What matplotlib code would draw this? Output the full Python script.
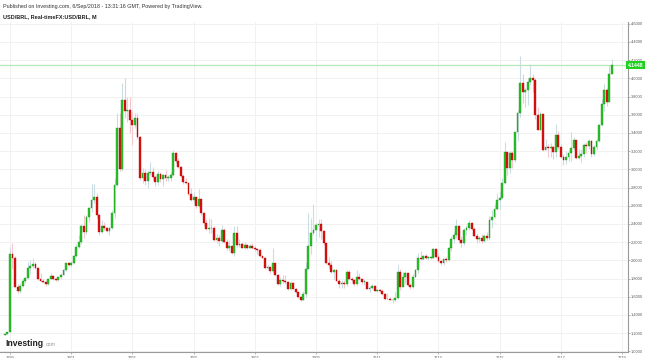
import matplotlib
matplotlib.use('Agg')
from matplotlib import pyplot as plt
import matplotlib.ticker as mticker

# monthly USD/BRL candles, Nov 1998 .. Sep 2018 (x = months since Jan 1999)
first_open = 1.18
closes = [1.19, 1.21,
          # 1999
          2.07, 2.03, 1.71, 1.66, 1.72, 1.77, 1.81, 1.92, 1.94, 1.96, 1.92, 1.79,
          # 2000
          1.77, 1.76, 1.74, 1.80, 1.83, 1.80, 1.78, 1.82, 1.84, 1.89, 1.97, 1.95,
          # 2001
          1.97, 2.05, 2.15, 2.20, 2.38, 2.31, 2.48, 2.57, 2.66, 2.70, 2.50, 2.31,
          # 2002
          2.38, 2.35, 2.32, 2.36, 2.52, 2.83, 3.45, 3.00, 3.76, 3.64, 3.65, 3.54,
          # 2003
          3.49, 3.56, 3.36, 2.91, 2.96, 2.87, 2.96, 2.97, 2.92, 2.86, 2.95, 2.89,
          # 2004
          2.94, 2.91, 2.91, 2.94, 3.18, 3.09, 3.03, 2.93, 2.86, 2.85, 2.73, 2.66,
          # 2005
          2.70, 2.60, 2.67, 2.52, 2.41, 2.34, 2.36, 2.35, 2.22, 2.25, 2.21, 2.33,
          # 2006
          2.20, 2.14, 2.16, 2.08, 2.30, 2.17, 2.18, 2.14, 2.17, 2.14, 2.16, 2.13,
          # 2007
          2.12, 2.11, 2.05, 2.03, 1.92, 1.93, 1.88, 1.97, 1.84, 1.74, 1.78, 1.77,
          # 2008
          1.76, 1.69, 1.75, 1.69, 1.65, 1.60, 1.56, 1.63, 1.90, 2.16, 2.30, 2.33,
          # 2009
          2.39, 2.40, 2.32, 2.19, 1.97, 1.95, 1.87, 1.89, 1.77, 1.74, 1.75, 1.74,
          # 2010
          1.87, 1.80, 1.78, 1.74, 1.82, 1.80, 1.76, 1.76, 1.69, 1.70, 1.72, 1.66,
          # 2011
          1.67, 1.66, 1.63, 1.57, 1.58, 1.56, 1.56, 1.59, 1.87, 1.71, 1.82, 1.86,
          # 2012
          1.73, 1.71, 1.82, 1.89, 2.02, 2.01, 2.05, 2.03, 2.03, 2.03, 2.12, 2.04,
          # 2013
          1.99, 1.97, 2.01, 2.00, 2.13, 2.23, 2.28, 2.38, 2.22, 2.19, 2.33, 2.36,
          # 2014
          2.41, 2.34, 2.27, 2.23, 2.24, 2.21, 2.27, 2.24, 2.44, 2.48, 2.56, 2.66,
          # 2015
          2.68, 2.85, 3.19, 3.01, 3.18, 3.10, 3.41, 3.62, 3.95, 3.85, 3.87, 3.96,
          # 2016
          4.00, 3.98, 3.60, 3.43, 3.61, 3.21, 3.24, 3.23, 3.25, 3.19, 3.38, 3.25,
          # 2017
          3.14, 3.10, 3.13, 3.18, 3.23, 3.32, 3.12, 3.15, 3.17, 3.27, 3.26, 3.31,
          # 2018
          3.17, 3.24, 3.31, 3.49, 3.72, 3.87, 3.74, 4.05, 4.1448]

highs = [1.195, 1.215,
         2.15, 2.19, 2.05, 1.74, 1.75, 1.80, 1.82, 1.98, 2.00, 2.03, 1.98, 1.93,
         1.86, 1.79, 1.77, 1.81, 1.86, 1.84, 1.81, 1.82, 1.86, 1.90, 1.98, 1.98,
         1.99, 2.06, 2.18, 2.28, 2.40, 2.50, 2.50, 2.59, 2.84, 2.84, 2.74, 2.52,
         2.44, 2.42, 2.37, 2.37, 2.55, 2.90, 3.62, 3.62, 3.95, 4.00, 3.80, 3.80,
         3.64, 3.62, 3.62, 3.37, 3.02, 3.00, 2.99, 3.08, 3.03, 2.94, 2.98, 2.97,
         2.95, 2.99, 2.94, 2.97, 3.21, 3.19, 3.12, 3.04, 2.95, 2.90, 2.86, 2.79,
         2.75, 2.70, 2.78, 2.67, 2.53, 2.45, 2.46, 2.45, 2.38, 2.29, 2.28, 2.39,
         2.35, 2.23, 2.22, 2.16, 2.38, 2.38, 2.23, 2.20, 2.20, 2.18, 2.18, 2.19,
         2.16, 2.14, 2.14, 2.05, 2.04, 1.95, 1.93, 2.13, 1.97, 1.85, 1.82, 1.84,
         1.84, 1.77, 1.77, 1.76, 1.70, 1.66, 1.61, 1.66, 1.98, 2.52, 2.47, 2.62,
         2.41, 2.45, 2.45, 2.33, 2.20, 2.04, 1.99, 1.90, 1.90, 1.80, 1.78, 1.78,
         1.89, 1.89, 1.82, 1.80, 1.89, 1.86, 1.81, 1.78, 1.76, 1.72, 1.74, 1.73,
         1.69, 1.69, 1.68, 1.64, 1.64, 1.60, 1.59, 1.65, 1.95, 1.90, 1.87, 1.88,
         1.87, 1.75, 1.85, 1.90, 2.08, 2.10, 2.06, 2.07, 2.05, 2.05, 2.13, 2.13,
         2.08, 2.00, 2.03, 2.04, 2.15, 2.27, 2.31, 2.45, 2.39, 2.27, 2.35, 2.39,
         2.44, 2.42, 2.37, 2.30, 2.27, 2.29, 2.29, 2.31, 2.49, 2.55, 2.62, 2.74,
         2.75, 2.90, 3.30, 3.19, 3.20, 3.20, 3.41, 3.65, 4.25, 4.05, 3.89, 4.00,
         4.16, 4.05, 4.00, 3.69, 3.63, 3.61, 3.33, 3.28, 3.29, 3.26, 3.50, 3.42,
         3.28, 3.17, 3.20, 3.21, 3.41, 3.35, 3.32, 3.22, 3.22, 3.29, 3.30, 3.33,
         3.32, 3.27, 3.33, 3.50, 3.77, 3.94, 3.89, 4.15, 4.21]

lows = [1.18, 1.19,
        1.21, 1.90, 1.70, 1.64, 1.64, 1.71, 1.75, 1.80, 1.85, 1.92, 1.90, 1.78,
        1.76, 1.75, 1.72, 1.73, 1.79, 1.78, 1.77, 1.77, 1.80, 1.84, 1.88, 1.94,
        1.93, 1.96, 2.04, 2.13, 2.18, 2.25, 2.29, 2.42, 2.53, 2.63, 2.47, 2.28,
        2.30, 2.33, 2.31, 2.28, 2.34, 2.47, 2.82, 2.98, 2.98, 3.56, 3.52, 3.40,
        3.27, 3.45, 3.33, 2.88, 2.85, 2.83, 2.80, 2.94, 2.88, 2.82, 2.83, 2.86,
        2.82, 2.87, 2.87, 2.87, 2.93, 3.07, 3.01, 2.92, 2.84, 2.84, 2.72, 2.65,
        2.62, 2.57, 2.59, 2.50, 2.38, 2.33, 2.30, 2.30, 2.21, 2.19, 2.16, 2.19,
        2.19, 2.11, 2.10, 2.07, 2.05, 2.15, 2.15, 2.13, 2.12, 2.12, 2.13, 2.12,
        2.10, 2.07, 2.04, 2.02, 1.91, 1.90, 1.86, 1.86, 1.83, 1.73, 1.72, 1.75,
        1.74, 1.67, 1.67, 1.68, 1.64, 1.59, 1.55, 1.56, 1.60, 1.91, 2.07, 2.28,
        2.21, 2.26, 2.23, 2.17, 1.96, 1.92, 1.86, 1.80, 1.77, 1.70, 1.70, 1.70,
        1.72, 1.79, 1.76, 1.72, 1.73, 1.78, 1.74, 1.73, 1.69, 1.65, 1.68, 1.66,
        1.65, 1.65, 1.62, 1.56, 1.57, 1.56, 1.53, 1.55, 1.58, 1.67, 1.71, 1.75,
        1.72, 1.69, 1.70, 1.82, 1.86, 2.00, 2.00, 2.01, 2.00, 2.01, 2.02, 2.03,
        1.98, 1.95, 1.95, 1.98, 1.99, 2.10, 2.19, 2.25, 2.19, 2.15, 2.17, 2.28,
        2.33, 2.33, 2.26, 2.19, 2.20, 2.19, 2.20, 2.22, 2.22, 2.35, 2.47, 2.55,
        2.56, 2.67, 2.84, 2.94, 2.96, 3.02, 3.08, 3.31, 3.57, 3.73, 3.69, 3.71,
        3.93, 3.85, 3.55, 3.43, 3.43, 3.20, 3.21, 3.13, 3.13, 3.11, 3.14, 3.22,
        3.12, 3.05, 3.06, 3.09, 3.09, 3.21, 3.11, 3.11, 3.08, 3.13, 3.18, 3.22,
        3.14, 3.15, 3.21, 3.30, 3.48, 3.64, 3.70, 3.74, 4.05]

opens = [first_open] + closes[:-1]
months = list(range(-2, len(closes) - 2))

year_labels = ['1999', '2001', '2003', '2005', '2007', '2009', '2011', '2013', '2015', '2017', '2019']
year_pos = [24 * i for i in range(len(year_labels))]
price_ticks = [1.0 + 0.2 * i for i in range(19)]
last_price = closes[-1]

up_body, up_edge, up_wick = '#2bc42b', '#128a12', '#c9dde2'
dn_body, dn_edge, dn_wick = '#dc1010', '#b00000', '#f6c6cc'

fig = plt.figure(figsize=(6.51, 3.58), dpi=100)
ax = fig.add_axes([0.0, 0.0159, 0.9642, 0.9226])

ups = [c >= o for o, c in zip(opens, closes)]
ax.vlines([m for m, u in zip(months, ups) if u],
          [l for l, u in zip(lows, ups) if u],
          [h for h, u in zip(highs, ups) if u], color=up_wick, lw=0.8, zorder=2)
ax.vlines([m for m, u in zip(months, ups) if not u],
          [l for l, u in zip(lows, ups) if not u],
          [h for h, u in zip(highs, ups) if not u], color=dn_wick, lw=0.8, zorder=2)

for m, o, c, u in zip(months, opens, closes, ups):
    h = max(abs(c - o), 0.008)
    ax.bar(m, h, bottom=min(o, c), width=0.72,
           color=up_body if u else dn_body,
           edgecolor=up_edge if u else dn_edge, linewidth=0.25, zorder=3)

ax.axhline(last_price, color='#b4e8b4', lw=0.9, zorder=1)
ax.text(1.0, last_price, '4.1448', transform=ax.get_yaxis_transform(),
        ha='left', va='center', fontsize=3.6, color='white', fontweight='bold',
        family='Liberation Sans', clip_on=False, zorder=5,
        bbox=dict(boxstyle='square,pad=0.35', fc='#1fd21f', ec='none'))

ax.set_xlim(-3.9, 242.2)
ax.set_ylim(0.989, 4.619)
ax.set_xticks(year_pos)
ax.set_xticklabels(year_labels)
ax.set_yticks(price_ticks)
ax.yaxis.set_major_formatter(mticker.FormatStrFormatter('%.4f'))
ax.yaxis.tick_right()
ax.grid(True, color='#f1f1f1', lw=0.7, zorder=0)
ax.set_axisbelow(True)
for s in ['top', 'left']:
    ax.spines[s].set_visible(False)
for s in ['right', 'bottom']:
    ax.spines[s].set_color('#9a9a9a')
    ax.spines[s].set_linewidth(0.8)
ax.tick_params(axis='both', labelsize=2.8, colors='#9a9a9a', labelcolor='#555555',
               length=1.5, width=0.5, pad=1)
for t in ax.get_xticklabels() + ax.get_yticklabels():
    t.set_family('Liberation Sans')

fig.text(0.005, 0.983, 'Published on Investing.com, 6/Sep/2018 - 13:31:16 GMT, Powered by TradingView.',
         fontsize=3.9, family='Liberation Sans', color='#333333', va='center')
fig.text(0.005, 0.953, 'USD/BRL, Real-timeFX:USD/BRL, M',
         fontsize=4.0, family='Liberation Sans', fontweight='bold', color='#222222', va='center')
fig.text(0.009, 0.034, 'Investing', fontsize=6.2, family='Liberation Sans',
         fontweight='bold', color='#222222', va='baseline')
fig.text(0.070, 0.034, 'com', fontsize=3.8, family='Liberation Sans',
         color='#999999', va='baseline')

fig.savefig('out.png', dpi=100)
